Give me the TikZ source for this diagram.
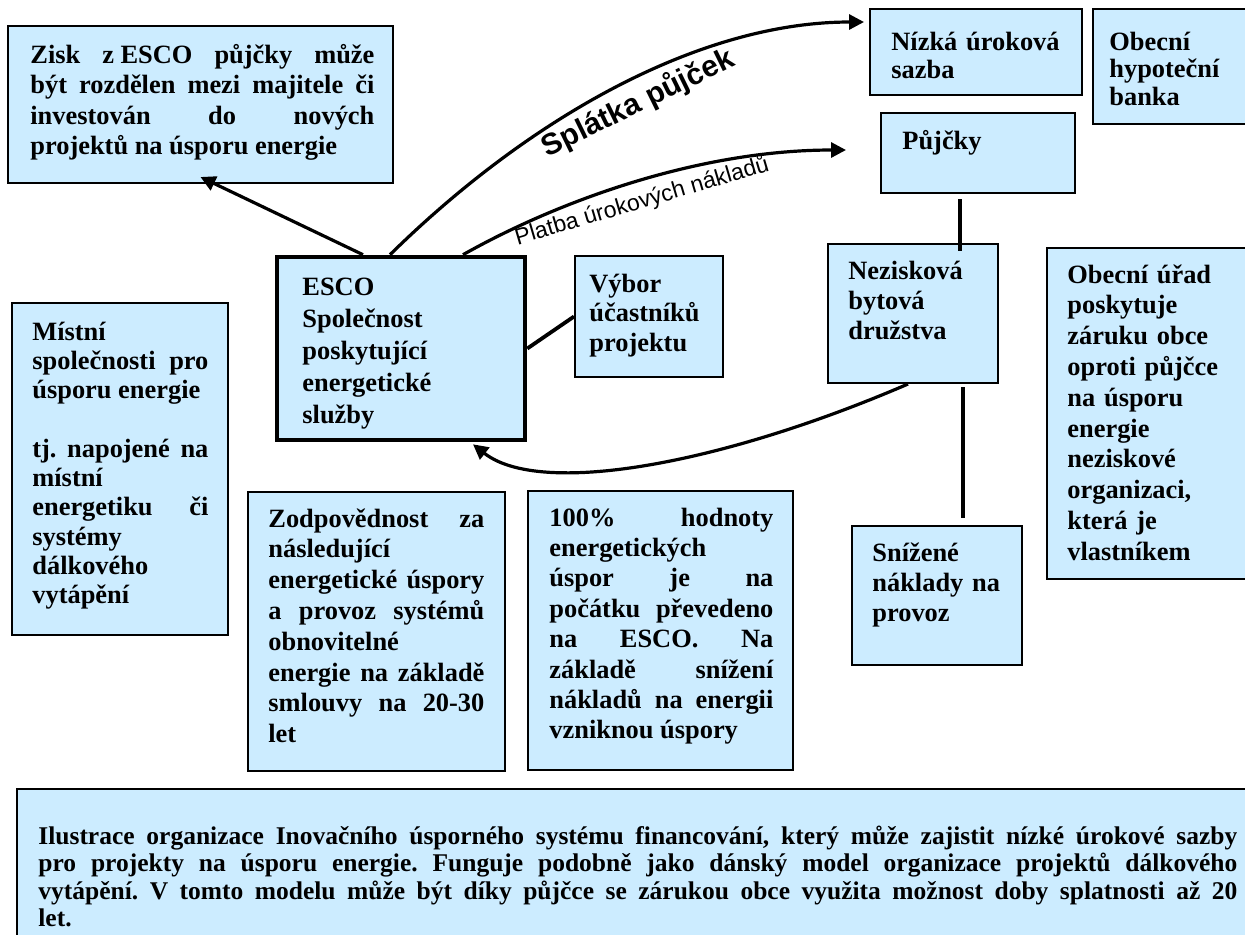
\documentclass[tikz,border=0pt]{standalone}
\usepackage{fontspec}
\setmainfont{Liberation Serif}
\newfontfamily\arialfont{Liberation Sans}
\usetikzlibrary{arrows.meta,fit}
\definecolor{boxfill}{HTML}{CCECFF}
\frenchspacing
\hyphenpenalty=10000
\exhyphenpenalty=10000
\tolerance=10000

\begin{document}
\begin{tikzpicture}[
    x=0.5pt,
    y=-0.5pt,
    box/.style={
        draw=black,
        line width=1pt,
        fill=boxfill,
        inner sep=0pt
    },
    escobox/.style={
        box,
        line width=2.3pt
    },
    txt/.style={
        anchor=base west,
        inner sep=0pt,
        align=left,
        text width=#1,
        font=\bfseries\fontsize{13.2}{15.2}\selectfont
    },
    jtxt/.style={
        txt=#1,
        align=justify
    },
    lead/.style={
        font=\bfseries\fontsize{13.2}{#1}\selectfont
    },
    arr/.style={
        -{Triangle[length=7.5pt,width=7.5pt]},
        line width=1.6pt
    },
    conn/.style={
        line width=1.9pt
    },
    lbl/.style={
        sloped,
        below=3.5pt,
        inner sep=0pt
    }
]

\fill[white] (0,0) rectangle (1245,934);
\useasboundingbox (0,0) rectangle (1245,934);

% boxes
\node[box,fit={(8,26) (393,183)}] (zisk) {};
\node[jtxt=172pt,lead=15.25pt] (zisk-t) at (30,63)
{Zisk \mbox{z ESCO} půjčky může\linebreak
být rozdělen mezi majitele či\linebreak
investován do nových\linebreak
projektů na úsporu energie};

\node[box,fit={(870,9) (1082,95)}] (nizka) {};
\node[txt=95pt,lead=14pt] (nizka-t) at (891,50)
{Nízká úroková\\sazba};

\node[box,fit={(1093,9) (1260,124)}] (banka) {};
\node[txt=70pt,lead=13.75pt] (banka-t) at (1109,50)
{Obecní\\hypoteční\\banka};

\node[box,fit={(881,113) (1075,193)}] (pujcky) {};
\node[txt=60pt] (pujcky-t) at (902,149) {Půjčky};

\node[escobox,fit={(277,257) (525,440)}] (esco) {};
\node[txt=100pt,lead=16pt] (esco-t) at (302,295)
{ESCO\\Společnost\\poskytující\\energetické\\služby};

\node[box,fit={(575,256) (723,377)}] (vybor) {};
\node[txt=64pt,lead=14.75pt] (vybor-t) at (589,292)
{Výbor\\účastníků\\projektu};

\node[box,fit={(828,244) (998,383)}] (nezisk) {};
\node[txt=70pt,lead=15pt] (nezisk-t) at (848,279)
{Nezisková\\bytová\\družstva};

\node[box,fit={(1047,248) (1260,579)}] (obec) {};
\node[txt=88pt,lead=15.4pt] (obec-t) at (1067,283)
{Obecní úřad\\poskytuje\\záruku obce\\oproti půjčce\\na úsporu\\energie\\%
neziskové\\organizaci,\\která je\\vlastníkem};

\node[box,fit={(12,303) (228,635)}] (mistni) {};
\node[jtxt=88pt,lead=14.65pt] (mistni-t) at (32,340)
{Místní\\společnosti pro\linebreak
úsporu energie\\\mbox{}\\%
tj. napojené na\linebreak
místní\\energetiku či\linebreak
systémy\\dálkového\\vytápění};

\node[box,fit={(248,492) (505,771)}] (zodp) {};
\node[jtxt=108pt,lead=15.4pt] (zodp-t) at (268,527)
{Zodpovědnost za\linebreak
následující\\energetické úspory\linebreak
a provoz systémů\linebreak
obnovitelné\\energie na základě\linebreak
smlouvy na 20-30\linebreak
let};

\node[box,fit={(528,491) (793,770)}] (sto) {};
\node[jtxt=112pt,lead=15.2pt] (sto-t) at (549,526)
{100\% hodnoty\linebreak
energetických\\úspor je na\linebreak
počátku převedeno\linebreak
na ESCO. Na\linebreak
základě snížení\linebreak
nákladů na energii\linebreak
vzniknou úspory};

\node[box,fit={(852,526) (1022,665)}] (snizene) {};
\node[txt=70pt,lead=15pt] (snizene-t) at (872,561)
{Snížené\\náklady na\\provoz};

\node[box,fit={(17,789) (1260,945)}] (popis) {};
\node[jtxt=599.5pt,font=\bfseries\fontsize{12.75}{13.8}\selectfont] (popis-t) at (38,844)
{Ilustrace organizace Inovačního úsporného systému financování, který může zajistit nízké úrokové sazby\linebreak
pro projekty na úsporu energie. Funguje podobně jako dánský model organizace projektů dálkového\linebreak
vytápění. V tomto modelu může být díky půjčce se zárukou obce využita možnost doby splatnosti až 20\linebreak
let.};

% connectors
\draw[arr] ([xshift=-19pt]esco.north) -- ([yshift=3.5pt]zisk.south);
\draw[arr] ([xshift=-5.5pt]esco.north)
    .. controls (530,117) and (700,22) .. ([shift={(-5,-30)}]nizka.west)
    node[lbl,pos=0.52,font=\arialfont\bfseries\fontsize{15}{18}\selectfont] (splatka) {Splátka půjček};
\draw[arr] ([xshift=31pt]esco.north)
    .. controls (560,200) and (700,150) .. ([shift={(-34,-3)}]pujcky.west)
    node[lbl,pos=0.5,font=\arialfont\fontsize{11.5}{14}\selectfont] (platba) {Platba úrokových nákladů};
\draw[arr] ([xshift=-2.5pt]nezisk.south)
    .. controls (720,465) and (540,497) .. ([shift={(72,2)}]esco.south);
\draw[conn] (esco.east) -- (vybor.west);
\draw[conn] ([shift={(-18,5)}]pujcky.south) -- ([shift={(47,8)}]nezisk.north);
\draw[conn] ([shift={(50,3)}]nezisk.south) -- ([shift={(26,-7)}]snizene.north);

\end{tikzpicture}
\end{document}
